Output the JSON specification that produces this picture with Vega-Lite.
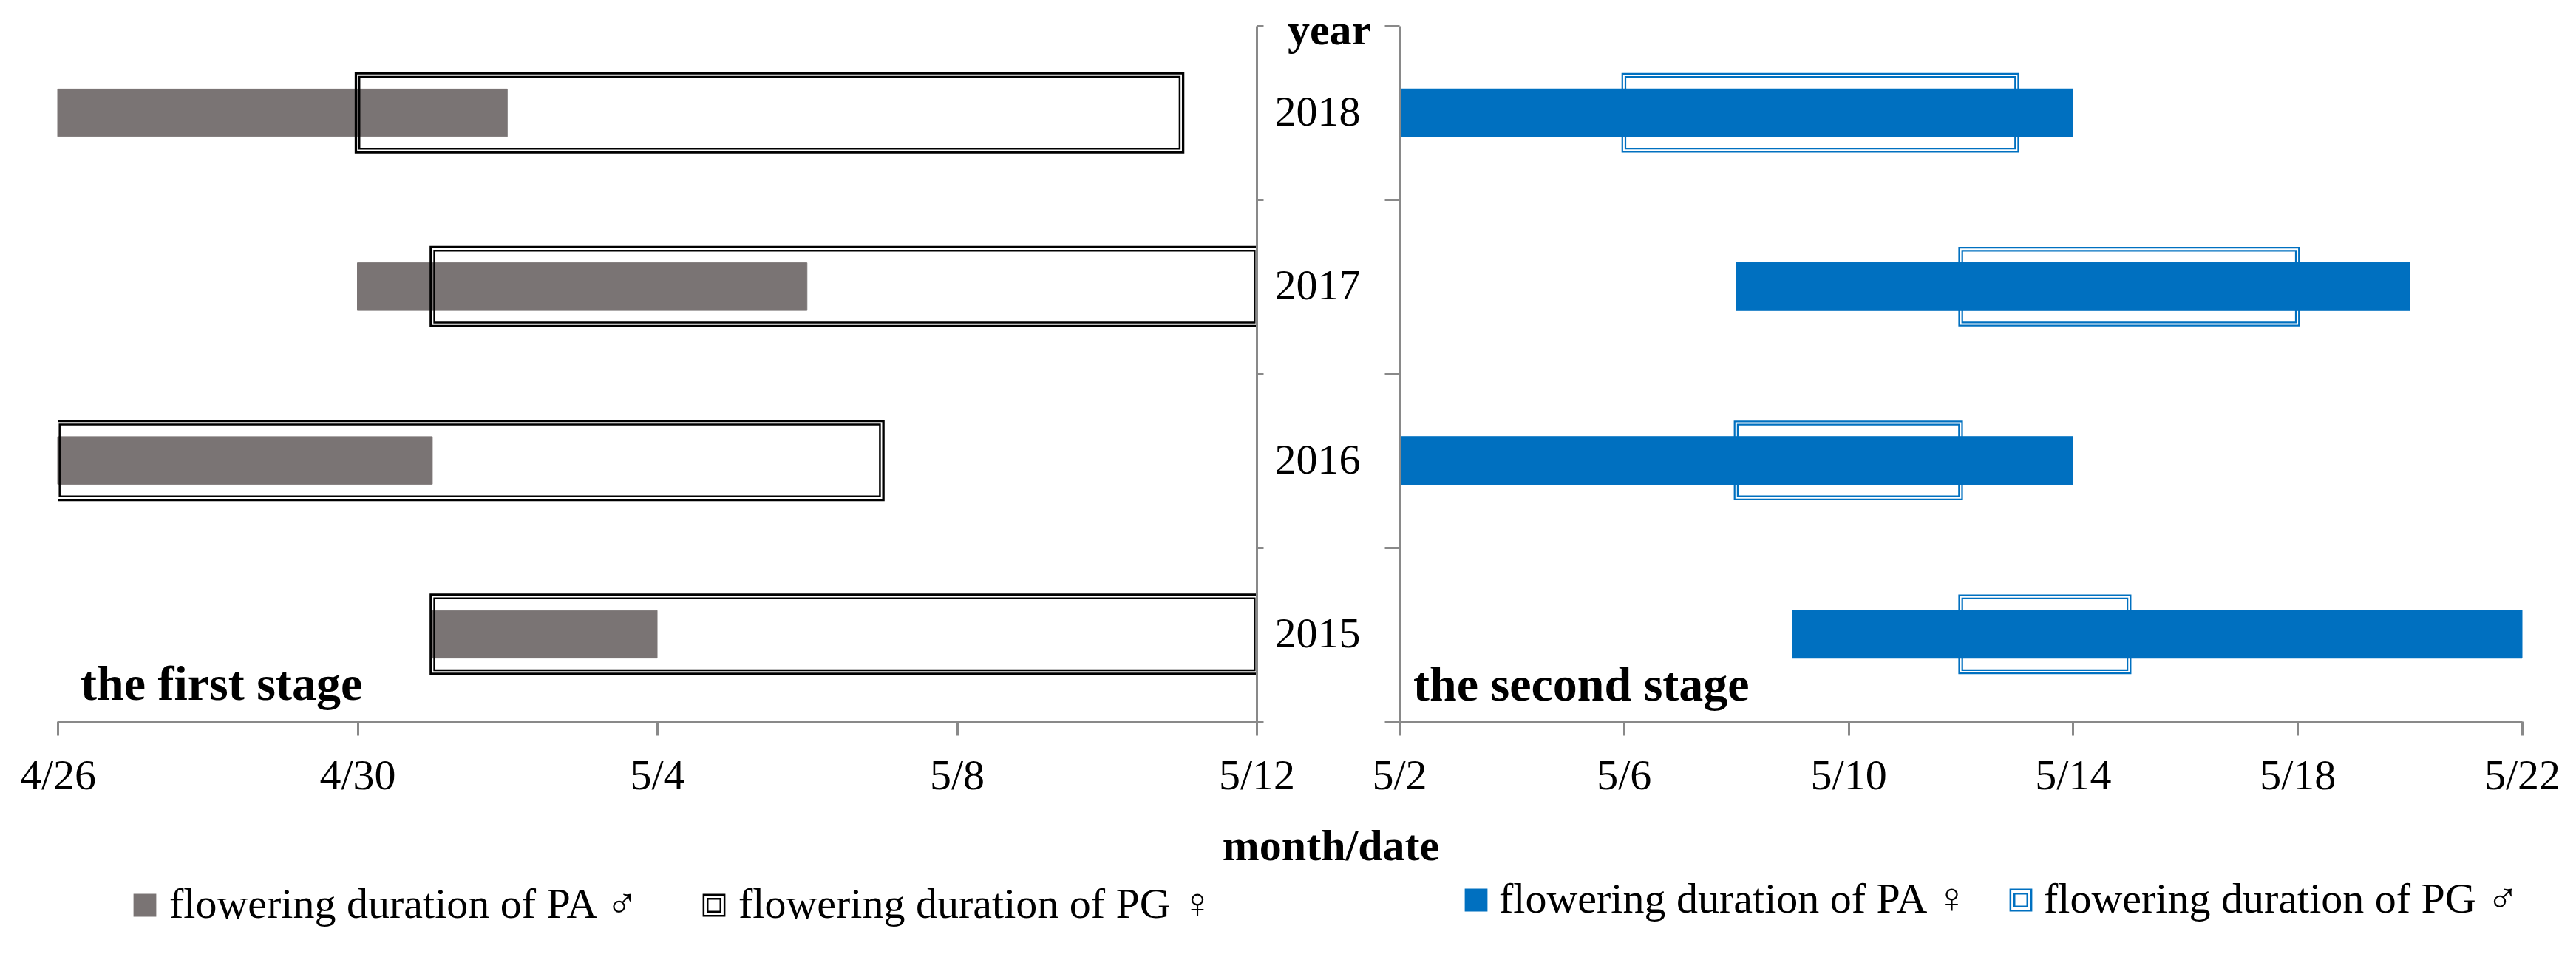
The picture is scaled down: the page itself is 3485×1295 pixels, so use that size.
{
  "$schema": "https://vega.github.io/schema/vega-lite/v6.json",
  "background": "white",
  "padding": {"left": 26, "top": 6, "right": 10, "bottom": 10},
  "config": {
    "view": {"stroke": null},
    "font": "Liberation Serif",
    "axis": {
      "domainColor": "#898989", "tickColor": "#898989", "domainWidth": 3, "tickWidth": 3,
      "grid": false, "labelFont": "Liberation Serif", "labelFontSize": 58, "labelColor": "black", "labelLimit": 0,
      "titleFont": "Liberation Serif", "titleFontSize": 60, "titleFontWeight": "bold", "titleColor": "black"
    },
    "legend": {
      "labelFont": "Liberation Serif", "labelFontSize": 58, "labelColor": "black", "labelLimit": 0,
      "symbolSize": 800, "symbolStrokeWidth": 2.5, "padding": 0, "title": null
    }
  },
  "datasets": {
    "first": [
      {"year": "2018", "plant": "PA", "series": "flowering duration of PA ♂", "start": "2000-04-26", "end": "2000-05-02"},
      {"year": "2017", "plant": "PA", "series": "flowering duration of PA ♂", "start": "2000-04-30", "end": "2000-05-06"},
      {"year": "2016", "plant": "PA", "series": "flowering duration of PA ♂", "start": "2000-04-26", "end": "2000-05-01"},
      {"year": "2015", "plant": "PA", "series": "flowering duration of PA ♂", "start": "2000-05-01", "end": "2000-05-04"},
      {"year": "2018", "plant": "PG", "series": "flowering duration of PG ♀", "start": "2000-04-30", "end": "2000-05-11"},
      {"year": "2017", "plant": "PG", "series": "flowering duration of PG ♀", "start": "2000-05-01", "end": "2000-05-12"},
      {"year": "2016", "plant": "PG", "series": "flowering duration of PG ♀", "start": "2000-04-26", "end": "2000-05-07"},
      {"year": "2015", "plant": "PG", "series": "flowering duration of PG ♀", "start": "2000-05-01", "end": "2000-05-12"}
    ],
    "second": [
      {"year": "2018", "plant": "PA", "series": "flowering duration of PA ♀", "start": "2000-05-02", "end": "2000-05-14"},
      {"year": "2017", "plant": "PA", "series": "flowering duration of PA ♀", "start": "2000-05-08", "end": "2000-05-20"},
      {"year": "2016", "plant": "PA", "series": "flowering duration of PA ♀", "start": "2000-05-02", "end": "2000-05-14"},
      {"year": "2015", "plant": "PA", "series": "flowering duration of PA ♀", "start": "2000-05-09", "end": "2000-05-22"},
      {"year": "2018", "plant": "PG", "series": "flowering duration of PG ♂", "start": "2000-05-06", "end": "2000-05-13"},
      {"year": "2017", "plant": "PG", "series": "flowering duration of PG ♂", "start": "2000-05-12", "end": "2000-05-18"},
      {"year": "2016", "plant": "PG", "series": "flowering duration of PG ♂", "start": "2000-05-08", "end": "2000-05-12"},
      {"year": "2015", "plant": "PG", "series": "flowering duration of PG ♂", "start": "2000-05-12", "end": "2000-05-15"}
    ],
    "stage1": [{"label": "the first stage"}],
    "stage2": [{"label": "the second stage"}]
  },
  "spacing": 193,
  "bounds": "flush",
  "resolve": {
    "scale": {"x": "independent", "y": "independent", "fill": "independent", "stroke": "independent"},
    "legend": {"fill": "independent", "stroke": "independent"}
  },
  "hconcat": [
    {
      "width": 1622,
      "height": 941,
      "layer": [
        {
          "data": {"name": "first"},
          "transform": [{"filter": "datum.plant === 'PA'"}],
          "mark": {"type": "bar", "height": {"band": 0.274}, "strokeWidth": 1},
          "encoding": {
            "y": {"field": "year", "type": "ordinal", "sort": ["2018", "2017", "2016", "2015"],
              "scale": {"domain": ["2018", "2017", "2016", "2015"], "paddingInner": 0, "paddingOuter": 0},
              "axis": {"orient": "right", "labels": false, "title": null, "tickBand": "extent", "tickSize": 9, "zindex": 1}},
            "x": {"field": "start", "type": "temporal",
              "scale": {"type": "utc", "domain": [{"year": 2000, "month": 4, "date": 26, "utc": true}, {"year": 2000, "month": 5, "date": 12, "utc": true}]},
              "axis": {"orient": "bottom", "title": null, "labelExpr": "utcFormat(datum.value, '%-m/%-d')",
                "values": [{"year": 2000, "month": 4, "date": 26, "utc": true}, {"year": 2000, "month": 4, "date": 30, "utc": true}, {"year": 2000, "month": 5, "date": 4, "utc": true}, {"year": 2000, "month": 5, "date": 8, "utc": true}, {"year": 2000, "month": 5, "date": 12, "utc": true}],
                "tickSize": 19, "labelPadding": 72, "labelBaseline": "alphabetic", "labelFlush": false, "labelOverlap": false, "zindex": 1}},
            "x2": {"field": "end"},
            "fill": {"field": "series", "type": "nominal",
              "scale": {"domain": ["flowering duration of PA ♂", "flowering duration of PG ♀"], "range": ["#7a7474", "transparent"]},
              "legend": {"orient": "none", "legendX": 89, "legendY": 1161, "direction": "horizontal", "title": null,
                "symbolType": "M-1,-1H1V1H-1Z M-0.62,-0.62H0.62V0.62H-0.62Z", "labelOffset": 4, "columnPadding": 70}},
            "stroke": {"field": "series", "type": "nominal",
              "scale": {"domain": ["flowering duration of PA ♂", "flowering duration of PG ♀"], "range": ["#7a7474", "#000000"]},
              "legend": {"orient": "none", "legendX": 89, "legendY": 1161, "direction": "horizontal", "title": null,
                "symbolType": "M-1,-1H1V1H-1Z M-0.62,-0.62H0.62V0.62H-0.62Z", "labelOffset": 4, "columnPadding": 70}}
          }
        },
        {
          "data": {"name": "first"},
          "transform": [{"filter": "datum.plant === 'PG'"}],
          "mark": {"type": "bar", "height": {"band": 0.455}, "fill": "transparent", "stroke": "#000000", "strokeWidth": 3.3, "xOffset": -2, "x2Offset": 2, "clip": true},
          "encoding": {
            "y": {"field": "year", "type": "ordinal"},
            "x": {"field": "start", "type": "temporal"},
            "x2": {"field": "end"}
          }
        },
        {
          "data": {"name": "first"},
          "transform": [{"filter": "datum.plant === 'PG'"}],
          "mark": {"type": "bar", "height": {"band": 0.413}, "fill": "transparent", "stroke": "#000000", "strokeWidth": 2.5, "xOffset": 2.7, "x2Offset": -2.7, "clip": true},
          "encoding": {
            "y": {"field": "year", "type": "ordinal"},
            "x": {"field": "start", "type": "temporal"},
            "x2": {"field": "end"}
          }
        },
        {
          "data": {"name": "stage1"},
          "mark": {"type": "text", "font": "Liberation Serif", "fontWeight": "bold", "fontSize": 66, "align": "left", "baseline": "alphabetic", "dx": 31, "dy": 89, "color": "black"},
          "encoding": {
            "x": {"datum": {"year": 2000, "month": 4, "date": 26, "utc": true}, "type": "temporal"},
            "y": {"datum": "2015", "type": "ordinal"},
            "text": {"field": "label"}
          }
        }
      ]
    },
    {
      "width": 1519,
      "height": 941,
      "layer": [
        {
          "data": {"name": "second"},
          "transform": [{"filter": "datum.plant === 'PG'"}],
          "mark": {"type": "bar", "height": {"band": 0.449}, "fill": "transparent", "stroke": "#0070c0", "strokeWidth": 2.2, "xOffset": -2, "x2Offset": 2, "clip": true},
          "encoding": {
            "y": {"field": "year", "type": "ordinal", "sort": ["2018", "2017", "2016", "2015"],
              "scale": {"domain": ["2018", "2017", "2016", "2015"], "paddingInner": 0, "paddingOuter": 0},
              "axis": {"orient": "left", "title": "year", "tickBand": "extent", "tickSize": 20, "labelPadding": 33, "labelBaseline": "middle",
                "titleAngle": 0, "titleX": -95, "titleY": 24, "titleAlign": "center", "titleBaseline": "alphabetic", "zindex": 1}},
            "x": {"field": "start", "type": "temporal",
              "scale": {"type": "utc", "domain": [{"year": 2000, "month": 5, "date": 2, "utc": true}, {"year": 2000, "month": 5, "date": 22, "utc": true}]},
              "axis": {"orient": "bottom", "title": "month/date", "labelExpr": "utcFormat(datum.value, '%-m/%-d')",
                "values": [{"year": 2000, "month": 5, "date": 2, "utc": true}, {"year": 2000, "month": 5, "date": 6, "utc": true}, {"year": 2000, "month": 5, "date": 10, "utc": true}, {"year": 2000, "month": 5, "date": 14, "utc": true}, {"year": 2000, "month": 5, "date": 18, "utc": true}, {"year": 2000, "month": 5, "date": 22, "utc": true}],
                "tickSize": 19, "labelPadding": 72, "labelBaseline": "alphabetic", "labelFlush": false, "labelOverlap": false,
                "titleX": -93, "titleY": 187, "titleAlign": "center", "titleBaseline": "alphabetic", "zindex": 1}},
            "x2": {"field": "end"}
          }
        },
        {
          "data": {"name": "second"},
          "transform": [{"filter": "datum.plant === 'PG'"}],
          "mark": {"type": "bar", "height": {"band": 0.413}, "fill": "transparent", "stroke": "#0070c0", "strokeWidth": 2.2, "xOffset": 2.2, "x2Offset": -2.2, "clip": true},
          "encoding": {
            "y": {"field": "year", "type": "ordinal"},
            "x": {"field": "start", "type": "temporal"},
            "x2": {"field": "end"}
          }
        },
        {
          "data": {"name": "second"},
          "transform": [{"filter": "datum.plant === 'PA'"}],
          "mark": {"type": "bar", "height": {"band": 0.275}, "strokeWidth": 1},
          "encoding": {
            "y": {"field": "year", "type": "ordinal"},
            "x": {"field": "start", "type": "temporal"},
            "x2": {"field": "end"},
            "fill": {"field": "series", "type": "nominal",
              "scale": {"domain": ["flowering duration of PA ♀", "flowering duration of PG ♂"], "range": ["#0070c0", "transparent"]},
              "legend": {"orient": "none", "legendX": 75, "legendY": 1154, "direction": "horizontal", "title": null,
                "symbolType": "M-1,-1H1V1H-1Z M-0.62,-0.62H0.62V0.62H-0.62Z", "labelOffset": 2, "columnPadding": 39}},
            "stroke": {"field": "series", "type": "nominal",
              "scale": {"domain": ["flowering duration of PA ♀", "flowering duration of PG ♂"], "range": ["#0070c0", "#0070c0"]},
              "legend": {"orient": "none", "legendX": 75, "legendY": 1154, "direction": "horizontal", "title": null,
                "symbolType": "M-1,-1H1V1H-1Z M-0.62,-0.62H0.62V0.62H-0.62Z", "labelOffset": 2, "columnPadding": 39}}
          }
        },
        {
          "data": {"name": "stage2"},
          "mark": {"type": "text", "font": "Liberation Serif", "fontWeight": "bold", "fontSize": 66, "align": "left", "baseline": "alphabetic", "dx": 19, "dy": 90, "color": "black"},
          "encoding": {
            "x": {"datum": {"year": 2000, "month": 5, "date": 2, "utc": true}, "type": "temporal"},
            "y": {"datum": "2015", "type": "ordinal"},
            "text": {"field": "label"}
          }
        }
      ]
    }
  ]
}
